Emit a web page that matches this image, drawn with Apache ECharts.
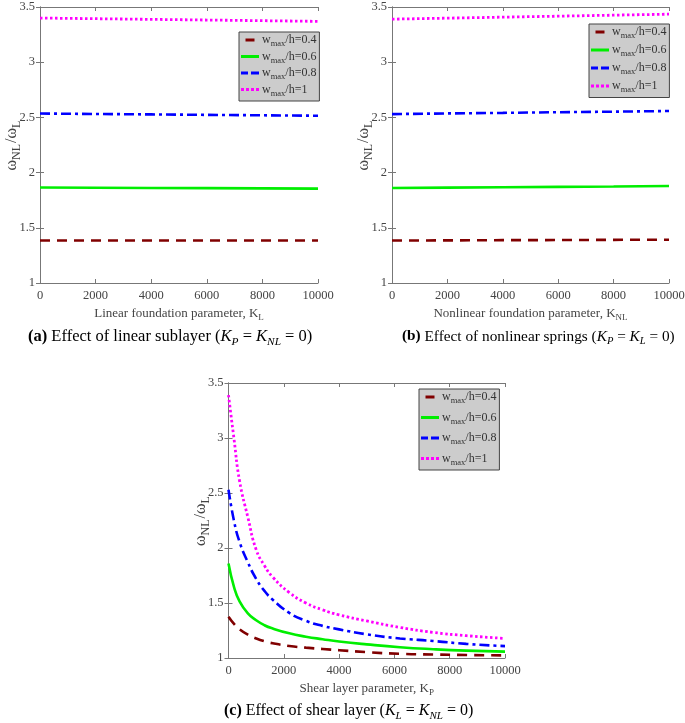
<!DOCTYPE html>
<html><head><meta charset="utf-8">
<script src="https://cdn.jsdelivr.net/npm/echarts@6/dist/echarts.min.js"></script>
<style>html,body{margin:0;padding:0;background:#fff}#c{width:685px;height:723px}</style>
</head><body><div id="c"></div>
<script>
// ---- data ----
var seriesNames = ['w_max/h=0.4', 'w_max/h=0.6', 'w_max/h=0.8', 'w_max/h=1'];
var xTicks = [0, 2000, 4000, 6000, 8000, 10000];
var yTicks = [1, 1.5, 2, 2.5, 3, 3.5];

// (a) linear foundation parameter K_L
var kL = [0, 2000, 4000, 6000, 8000, 10000];
var a_04 = [1.385, 1.385, 1.385, 1.385, 1.385, 1.385];
var a_06 = [1.865, 1.863, 1.861, 1.859, 1.857, 1.855];
var a_08 = [2.535, 2.531, 2.527, 2.523, 2.519, 2.515];
var a_10 = [3.400, 3.394, 3.388, 3.382, 3.376, 3.370];

// (b) nonlinear foundation parameter K_NL
var kNL = [0, 2000, 4000, 6000, 8000, 10000];
var b_04 = [1.385, 1.386, 1.388, 1.389, 1.391, 1.392];
var b_06 = [1.860, 1.864, 1.867, 1.871, 1.874, 1.878];
var b_08 = [2.530, 2.536, 2.541, 2.547, 2.552, 2.558];
var b_10 = [3.390, 3.399, 3.408, 3.417, 3.426, 3.435];

// (c) shear layer parameter K_P
var kP = [0, 200, 400, 700, 1000, 1300, 1600, 2200, 2800, 3400, 4000, 5000, 6200, 7400, 8600, 10000];
var c_04 = [1.375, 1.310, 1.262, 1.212, 1.178, 1.152, 1.134, 1.109, 1.094, 1.082, 1.071, 1.053, 1.038, 1.032, 1.027, 1.024];
var c_06 = [1.860, 1.645, 1.515, 1.405, 1.343, 1.298, 1.268, 1.224, 1.194, 1.171, 1.150, 1.124, 1.098, 1.080, 1.067, 1.058];
var c_08 = [2.530, 2.245, 2.055, 1.870, 1.720, 1.610, 1.530, 1.410, 1.338, 1.292, 1.260, 1.215, 1.178, 1.155, 1.128, 1.108];
var c_10 = [3.390, 2.990, 2.610, 2.280, 1.985, 1.840, 1.735, 1.595, 1.500, 1.438, 1.392, 1.337, 1.278, 1.233, 1.203, 1.178];

// ---- styles ----
var FONT = '"Liberation Serif", "Times New Roman", serif';
var colors = ['#800000', '#00ee00', '#0000ff', '#ff00ff'];
var styles = [
  {color: colors[0], width: 2.6, type: [10, 7]},
  {color: colors[1], width: 2.6, type: 'solid'},
  {color: colors[2], width: 2.6, type: [10, 4, 3, 4]},
  {color: colors[3], width: 2.8, type: [2.5, 2.5]}
];
var icons = [
  'path://M0,0h9v3h-9z',
  'path://M0,0h18v3h-18z',
  'path://M0,0h7v3h-7z M10,0h8v3h-8z',
  'path://M0,0h3v3h-3z M5,0h3v3h-3z M10,0h3v3h-3z M15,0h3v3h-3z'
];
var grids = [
  {left: 40, top: 7, width: 278, height: 276},
  {left: 392, top: 7, width: 277, height: 276},
  {left: 228.5, top: 383, width: 276.5, height: 275}
];
var xNames = [
  'Linear foundation parameter, K{sub|L}',
  'Nonlinear foundation parameter, K{sub|NL}',
  'Shear layer parameter, K{sub|P}'
];
var xs = [kL, kNL, kP];
var ys = [[a_04, a_06, a_08, a_10], [b_04, b_06, b_08, b_10], [c_04, c_06, c_08, c_10]];
var legendPos = [{left: 239, top: 32, gap: 2}, {left: 589, top: 24, gap: 3.5}, {left: 419, top: 389, gap: 6}];

var subRich = {sub: {fontSize: 9, fontFamily: FONT, color: '#444', verticalAlign: 'bottom', padding: [8, 0, 0, 0]}};
var ySubRich = {
  w: {fontSize: 16, fontFamily: FONT, color: '#444', verticalAlign: 'middle'},
  sub: {fontSize: 12, fontFamily: FONT, color: '#444', verticalAlign: 'bottom', padding: [10, 1, 0, 0]}
};

var xAxes = [], yAxes = [], series = [], legends = [];
grids.forEach(function (g, gi) {
  var tick = {inside: false, length: -4, lineStyle: {color: '#777'}};
  var common = {
    gridIndex: gi, type: 'value', min: xTicks[0], max: xTicks[xTicks.length - 1], interval: xTicks[1] - xTicks[0],
    axisLine: {lineStyle: {color: '#777', width: 1}},
    axisTick: tick,
    splitLine: {show: false}
  };
  xAxes.push(Object.assign({}, common, {
    position: 'bottom',
    axisLabel: {color: '#444', fontFamily: FONT, fontSize: 12.5, margin: 6, formatter: function (v) { return String(v); }},
    name: xNames[gi], nameLocation: 'middle', nameGap: 22, nameMoveOverlap: false,
    nameTextStyle: {color: '#444', fontFamily: FONT, fontSize: 13, rich: subRich}
  }));
  xAxes.push(Object.assign({}, common, {position: 'top', axisLabel: {show: false}}));
  var ycommon = {
    gridIndex: gi, type: 'value', min: yTicks[0], max: yTicks[yTicks.length - 1], interval: yTicks[1] - yTicks[0],
    axisLine: {lineStyle: {color: '#777', width: 1}},
    axisTick: tick,
    splitLine: {show: false}
  };
  yAxes.push(Object.assign({}, ycommon, {
    position: 'left',
    axisLabel: {color: '#444', fontFamily: FONT, fontSize: 12.5, margin: 5},
    name: '{w|\u03c9}{sub|NL}{w|/\u03c9}{sub|L}', nameLocation: 'middle', nameGap: 17, nameRotate: 90,
    nameMoveOverlap: false,
    nameTextStyle: {color: '#444', fontFamily: FONT, fontSize: 16, rich: ySubRich}
  }));
  yAxes.push(Object.assign({}, ycommon, {position: 'right', axisLabel: {show: false}}));
  for (var s = 0; s < 4; s++) {
    var d = xs[gi].map(function (x, i) { return [x, ys[gi][s][i]]; });
    series.push({
      type: 'line', name: seriesNames[s], xAxisIndex: gi * 2, yAxisIndex: gi * 2,
      data: d, smooth: gi === 2 ? 0.5 : false, showSymbol: false, symbol: 'none',
      lineStyle: styles[s], itemStyle: {color: styles[s].color}, animation: false
    });
  }
  legends.push({
    left: legendPos[gi].left, top: legendPos[gi].top, orient: 'vertical',
    data: seriesNames.map(function (n, k) { return {name: n, icon: icons[k], itemStyle: {color: colors[k]}}; }),
    backgroundColor: '#cccccc', borderColor: '#444', borderWidth: 1,
    padding: [2, 3, 3, 2], itemGap: legendPos[gi].gap, itemWidth: 18, itemHeight: 3,
    selectedMode: false,
    formatter: function (n) { var p = n.split('_max'); return p[0] + '{sub|max}' + p[1]; },
    textStyle: {color: '#333', fontFamily: FONT, fontSize: 12, padding: [0, 0, 0, -2],
      rich: {sub: {fontSize: 8.5, fontFamily: FONT, color: '#333', verticalAlign: 'bottom', padding: [8, 0, 0, 0]}}}
  });
});

function caption(x, y, label, body, s1, s2, fs) {
  return {
    type: 'text', left: x, top: y,
    style: {
      text: '{b|' + label + '}{n| ' + body + ' (}{i|K}{s|' + s1 + '}{n| = }{i|K}{s|' + s2 + '}{n| = 0)}',
      rich: {
        b: {fontFamily: FONT, fontSize: fs, fontWeight: 'bold', fill: '#000', verticalAlign: 'middle'},
        n: {fontFamily: FONT, fontSize: fs, fill: '#000', verticalAlign: 'middle'},
        i: {fontFamily: FONT, fontSize: fs, fontStyle: 'italic', fill: '#000', verticalAlign: 'middle'},
        s: {fontFamily: FONT, fontSize: fs * 0.69, fontStyle: 'italic', fill: '#000', verticalAlign: 'bottom', padding: [10, 0, 0, 0]}
      }
    }
  };
}

var chart = echarts.init(document.getElementById('c'), null, {renderer: 'canvas'});
chart.setOption({
  animation: false,
  backgroundColor: '#fff',
  grid: grids.map(function (g) { return Object.assign({containLabel: false, outerBoundsMode: 'none', show: false}, g); }),
  xAxis: xAxes, yAxis: yAxes, series: series, legend: legends,
  graphic: [
    caption(28, 328, '(a)', 'Effect of linear sublayer', 'P', 'NL', 16.5),
    caption(402, 329, '(b)', 'Effect of nonlinear springs', 'P', 'L', 15.3),
    caption(224, 703, '(c)', 'Effect of shear layer', 'L', 'NL', 16)
  ]
});
</script></body></html>
